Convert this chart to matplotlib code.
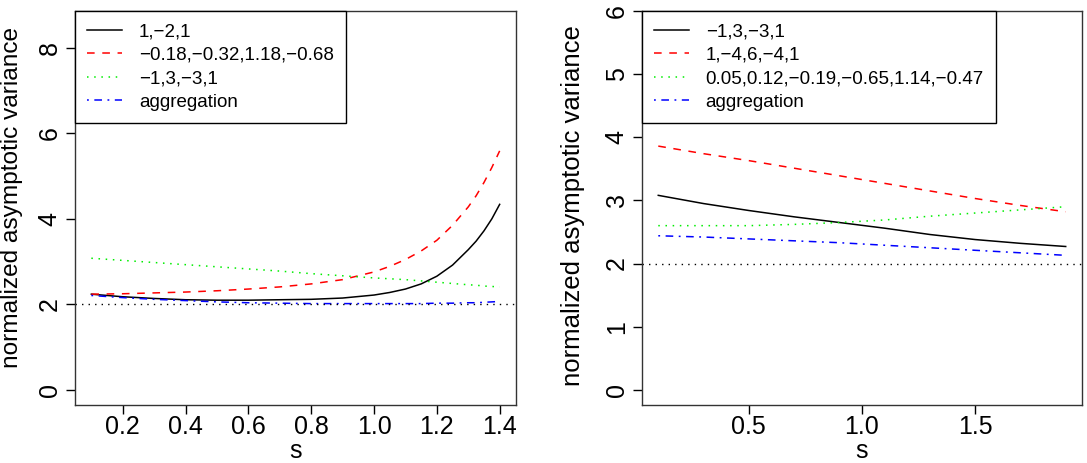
import numpy as np
import matplotlib
matplotlib.use('Agg')
import matplotlib.pyplot as plt

plt.rcParams['font.family'] = ['Liberation Sans', 'DejaVu Sans']

# left panel
s_left = [0.1, 0.2, 0.3, 0.4, 0.5, 0.6, 0.7, 0.8, 0.9, 1.0, 1.05, 1.1, 1.15, 1.2, 1.25, 1.3, 1.325, 1.35, 1.375, 1.4]
black_left = [2.24, 2.18, 2.14, 2.11, 2.10, 2.10, 2.11, 2.12, 2.15, 2.22, 2.28, 2.36, 2.48, 2.66, 2.92, 3.28, 3.48, 3.72, 4.00, 4.34]
red_left = [2.24, 2.25, 2.27, 2.29, 2.32, 2.36, 2.41, 2.48, 2.58, 2.76, 2.89, 3.05, 3.25, 3.50, 3.85, 4.28, 4.54, 4.85, 5.20, 5.59]
green_left = [3.08, 3.03, 2.98, 2.93, 2.88, 2.83, 2.78, 2.72, 2.67, 2.62, 2.60, 2.58, 2.55, 2.52, 2.49, 2.46, 2.45, 2.43, 2.42, 2.41]
blue_left = [2.21, 2.16, 2.12, 2.09, 2.06, 2.04, 2.03, 2.02, 2.02, 2.02, 2.02, 2.02, 2.02, 2.03, 2.03, 2.04, 2.04, 2.05, 2.06, 2.07]
labels_left = ['1,\u22122,1', '\u22120.18,\u22120.32,1.18,\u22120.68', '\u22121,3,\u22123,1', 'aggregation']

# right panel
s_right = [0.1, 0.3, 0.5, 0.7, 0.9, 1.1, 1.3, 1.5, 1.7, 1.9]
black_right = [3.08, 2.95, 2.84, 2.74, 2.65, 2.56, 2.46, 2.38, 2.32, 2.27]
red_right = [3.86, 3.74, 3.63, 3.51, 3.39, 3.27, 3.15, 3.03, 2.92, 2.82]
green_right = [2.60, 2.60, 2.60, 2.62, 2.65, 2.69, 2.75, 2.80, 2.85, 2.90]
blue_right = [2.44, 2.42, 2.39, 2.36, 2.33, 2.29, 2.25, 2.21, 2.17, 2.13]
labels_right = ['\u22121,3,\u22123,1', '1,\u22124,6,\u22124,1', '0.05,0.12,\u22120.19,\u22120.65,1.14,\u22120.47', 'aggregation']

fig = plt.figure(figsize=(10.87, 4.63), dpi=100)
ax1 = fig.add_axes([0.0690, 0.1253, 0.4057, 0.8510])
ax2 = fig.add_axes([0.5906, 0.1253, 0.4048, 0.8510])


def draw(ax, s, ys, labels, xlim, ylim, xticks, yticks, ylab_pos, ylab_size):
    styles = [
        dict(color='black', dashes=()),
        dict(color='#ff0000', dashes=(5, 5)),
        dict(color='#00ee00', dashes=(1, 3.7)),
        dict(color='#0000ff', dashes=(1.2, 3.6, 5, 3.6)),
    ]
    for y, lab, st in zip(ys, labels, styles):
        line, = ax.plot(s, y, color=st['color'], lw=1.1, label=lab)
        if st['dashes']:
            line.set_dashes(st['dashes'])
    ax.axhline(2, color='black', lw=1.0, dashes=(1, 3.7))
    ax.set_xlim(*xlim)
    ax.set_ylim(*ylim)
    ax.set_xticks(xticks)
    ax.set_yticks(yticks)
    ax.set_xticklabels([f'{t:.1f}' for t in xticks])
    ax.set_yticklabels([str(t) for t in yticks], rotation=90, va='center')
    ax.tick_params(direction='out', length=6.5, width=1, labelsize=18, pad=0.5)
    ax.tick_params(axis='y', pad=3)
    for sp in ax.spines.values():
        sp.set_linewidth(1.0)
        sp.set_color('#333333')
    ax.set_xlabel('s', fontsize=18, labelpad=0)
    ax.set_ylabel('normalized asymptotic variance', fontsize=ylab_size)
    ax.yaxis.set_label_coords(*ylab_pos)
    leg = ax.legend(loc='upper left', bbox_to_anchor=(0, 1), borderaxespad=0,
                    fancybox=False, edgecolor='black', framealpha=1, fontsize=13.5,
                    handlelength=1.85, handletextpad=0.9, borderpad=0.65,
                    labelspacing=0.34)
    leg.get_frame().set_linewidth(1.0)


draw(ax1, s_left, [black_left, red_left, green_left, blue_left], labels_left,
     (0.048, 1.452), (-0.35, 8.86), [0.2, 0.4, 0.6, 0.8, 1.0, 1.2, 1.4], [0, 2, 4, 6, 8],
     (-0.118, 0.527), 17.6)
draw(ax2, s_right, [black_right, red_right, green_right, blue_right], labels_right,
     (0.028, 1.972), (-0.24, 6.0), [0.5, 1.0, 1.5], [0, 1, 2, 3, 4, 5, 6],
     (-0.13, 0.505), 18.5)

fig.savefig('out.png', dpi=100)
